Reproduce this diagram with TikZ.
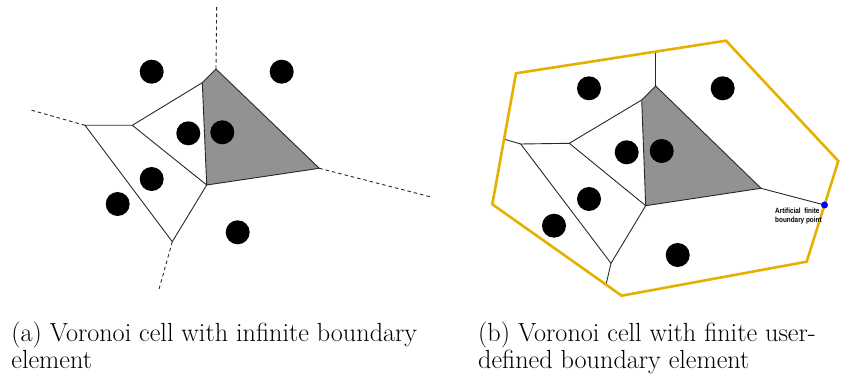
\documentclass[tikz,border=0pt]{standalone}
\usepackage{fontspec}
\newfontfamily\narrowfont[FakeStretch=0.84]{Liberation Sans}
\definecolor{cellgray}{RGB}{146,146,146}
\definecolor{bdgold}{RGB}{230,176,0}
\definecolor{edgegray}{RGB}{40,40,40}
\begin{document}
\begin{tikzpicture}[x=1pt,y=-1pt,
  edge/.style={draw=edgegray,line width=0.9pt},
  infedge/.style={draw=edgegray,line width=0.9pt,dash pattern=on 3.5pt off 3pt},
  site/.style={circle,fill=black,inner sep=0pt,minimum size=24pt},
  shaded/.style={fill=cellgray,draw=edgegray,line width=0.9pt,line join=round},
  userbd/.style={draw=bdgold,line width=2.6pt,line join=miter},
  captext/.style={anchor=base west,inner sep=0pt,font=\fontsize{26.2}{26.7}\selectfont},
  smalllab/.style={anchor=base west,inner sep=0pt,font=\narrowfont\bfseries\fontsize{7.6}{9.4}\selectfont}]
\useasboundingbox (0,0) rectangle (852,385);
% ---------- panel (a) ----------
\coordinate (aA) at (216,69);
\coordinate (aB) at (202.3,82.7);
\coordinate (aC) at (132.3,125.3);
\coordinate (aD) at (85,125.3);
\coordinate (aE) at (206.7,185);
\coordinate (aF) at (319.3,168.3);
\coordinate (aG) at (172.3,241.7);
\coordinate (aTop) at (216.7,6.7);
\coordinate (aLeft) at (30.7,110);
\coordinate (aRight) at (430,196.7);
\coordinate (aBot) at (158.3,291.7);
\path[shaded] (aA) -- (aB) -- (aE) -- (aF) -- cycle;
\draw[edge] (aB) -- (aC) -- (aD) -- (aG) -- (aE) -- (aC);
\draw[infedge] (aA) -- (aTop);
\draw[infedge] (aD) -- (aLeft);
\draw[infedge] (aF) -- (aRight);
\draw[infedge] (aG) -- (aBot);
\node[site] (as1) at (151.7,71.7) {};
\node[site] (as2) at (281.7,71.7) {};
\node[site] (as3) at (188.3,133.3) {};
\node[site] (as4) at (222.3,132.3) {};
\node[site] (as5) at (151.7,179) {};
\node[site] (as6) at (117.7,204) {};
\node[site] (as7) at (237.7,232.3) {};
% ---------- panel (b) ----------
\coordinate (b1) at (516,73.3);
\coordinate (b2) at (726,40.7);
\coordinate (b3) at (838.3,161);
\coordinate (b4) at (806.7,261.7);
\coordinate (b5) at (621.7,295.7);
\coordinate (b6) at (492.3,204.3);
\coordinate (bA) at (655.7,86);
\coordinate (bB) at (641.7,100);
\coordinate (bC) at (569.3,143.3);
\coordinate (bD) at (520.7,144);
\coordinate (bE) at (645.7,205.7);
\coordinate (bF) at (761,188.3);
\coordinate (bG) at (611,263.3);
\coordinate (bTop) at (655.7,50.7);
\coordinate (bLeft) at (504.6,139.3);
\coordinate (bBot) at (606,284.6);
\path[shaded] (bA) -- (bB) -- (bE) -- (bF) -- cycle;
\draw[edge] (bB) -- (bC) -- (bD) -- (bG) -- (bE) -- (bC);
\draw[edge] (bA) -- (bTop);
\draw[edge] (bD) -- (bLeft);
\draw[edge] (bG) -- (bBot);
\coordinate (bPc) at (824.5,205);
\draw[edge] (bF) -- (bPc);
\draw[userbd] (b1) -- (b2) -- (b3) -- (b4) -- (b5) -- (b6) -- cycle;
\node[circle,fill=blue,inner sep=0pt,minimum size=7pt] (bP) at (bPc) {};
\node[site] (bs1) at (589,88.3) {};
\node[site] (bs2) at (722.7,88.3) {};
\node[site] (bs3) at (626.7,152.3) {};
\node[site] (bs4) at (661.7,151) {};
\node[site] (bs5) at (589,199) {};
\node[site] (bs6) at (554,225.7) {};
\node[site] (bs7) at (677.7,255) {};
\node[smalllab] (blab1) at (775,213.3) {Artificial\ \ finite};
\node[smalllab] (blab2) at (775,222.7) {boundary point};
% ---------- captions ----------
\node[captext] (capa1) at (11.2,341.7) {(a) Voronoi cell with infinite boundary};
\node[captext] (capa2) at (11.2,368.3) {element};
\node[captext] (capb1) at (478,341.7) {(b) Voronoi cell with finite user-};
\node[captext] (capb2) at (478,368.3) {defined boundary element};
\end{tikzpicture}
\end{document}
